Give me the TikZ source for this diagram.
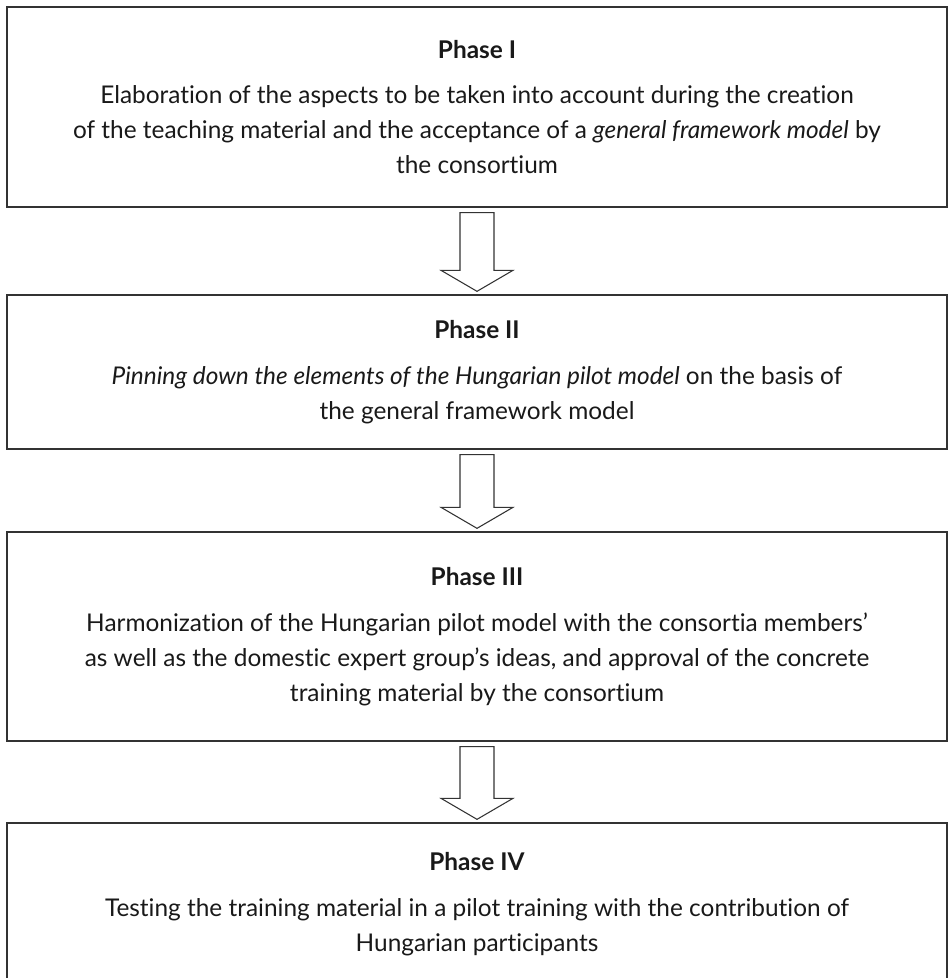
\documentclass[tikz,border=0pt]{standalone}
\usepackage{fontspec}
\setmainfont{Lato}[Ligatures=NoCommon]
\usetikzlibrary{calc}

\newcommand{\blockarrow}[2]{%
  \draw[arr] ($(#1.south)+(-17,5)$) -- ($(#2.north)+(-17,-24)$) -- ($(#2.north)+(-36,-24)$)
    -- ($(#2.north)+(0,-3)$) -- ($(#2.north)+(36,-24)$) -- ($(#2.north)+(17,-24)$)
    -- ($(#1.south)+(17,5)$) -- cycle;}

\begin{document}
\begin{tikzpicture}[x=0.75pt,y=-0.75pt,
    box/.style={draw=black!80, line width=1pt, minimum width=705pt, align=center, font=\fontsize{18.3}{26.3}\selectfont, text=black!90},
    arr/.style={draw=black!80, line width=0.8pt, fill=white, line join=miter}
]
\useasboundingbox (0,0) rectangle (949,978);
\clip (0,0) rectangle (949,978);
\node[box, minimum height=150pt] (phase1) at (477,107) {\textbf{Phase I}\\[8pt]
  Elaboration of the aspects to be taken into account during the creation\\
  of the teaching material and the acceptance of a \textit{general framework model} by\\
  the consortium};
\node[box, minimum height=115.5pt] (phase2) at (477,372) {\textbf{Phase II}\\[8pt]
  \textit{Pinning down the elements of the Hungarian pilot model} on the basis of\\
  the general framework model};
\node[box, minimum height=156.75pt] (phase3) at (477,636.5) {\textbf{Phase III}\\[8pt]
  Harmonization of the Hungarian pilot model with the consortia members’\\
  as well as the domestic expert group’s ideas, and approval of the concrete\\
  training material by the consortium};
\node[box, minimum height=121.5pt] (phase4) at (477,904) {\textbf{Phase IV}\\[8pt]
  Testing the training material in a pilot training with the contribution of\\
  Hungarian participants};

\blockarrow{phase1}{phase2}
\blockarrow{phase2}{phase3}
\blockarrow{phase3}{phase4}
\end{tikzpicture}
\end{document}
